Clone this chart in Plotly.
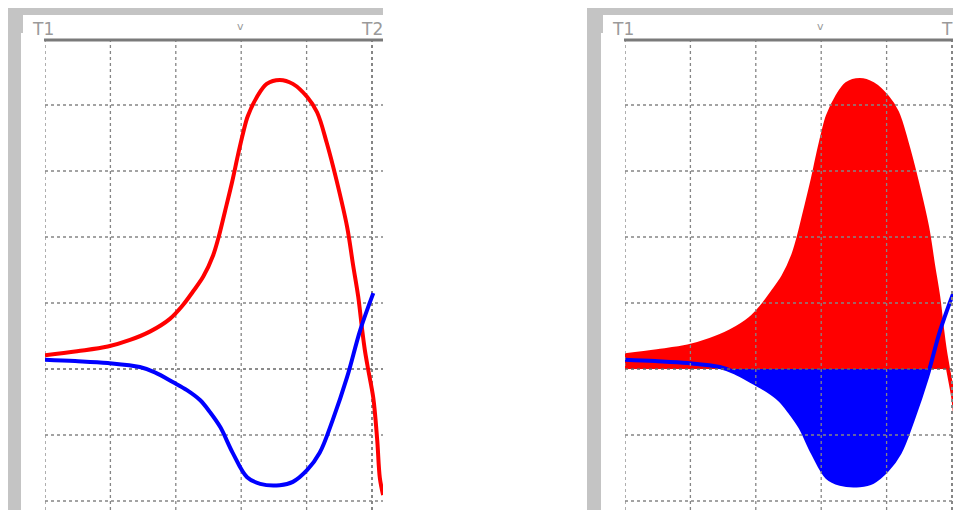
import numpy as np
import plotly.graph_objects as go

# Data in scope divisions (x: time divisions from T1, y: divisions from centre line)
red_x = [0, 0.49, 0.96, 1.30, 1.61, 1.91, 2.11, 2.26, 2.42, 2.57, 2.65, 2.75, 2.86, 2.95, 3.03,
         3.10, 3.24, 3.39, 3.59, 3.79, 4.01, 4.16, 4.31, 4.46, 4.62, 4.71, 4.79, 4.85, 4.89,
         4.94, 5.02, 5.08, 5.12, 5.17]
red_y = [0.21, 0.27, 0.34, 0.44, 0.57, 0.76, 0.97, 1.17, 1.40, 1.72, 1.98, 2.38, 2.83, 3.24,
         3.58, 3.83, 4.12, 4.32, 4.38, 4.32, 4.12, 3.89, 3.42, 2.85, 2.15, 1.58, 1.09, 0.59,
         0.29, 0.00, -0.44, -1.08, -1.65, -1.91]
blue_x = [0, 0.46, 0.96, 1.45, 1.68, 1.96, 2.17, 2.37, 2.52, 2.68, 2.87, 3.09, 3.29, 3.59,
          3.79, 4.01, 4.20, 4.40, 4.62, 4.82, 5.02]
blue_y = [0.14, 0.12, 0.09, 0.03, -0.05, -0.20, -0.32, -0.47, -0.65, -0.88, -1.27, -1.64,
          -1.74, -1.76, -1.71, -1.53, -1.27, -0.77, -0.12, 0.59, 1.15]
labels = ["T1", "v", "T2"]

# The page adds an 8px body margin; work in page pixels and shift.
OFF = 8
W, H = 961 - OFF, 510 - OFF


def px(x):
    return (x - OFF) / W


def py(y):
    return 1 - (y - OFF) / H


PX_X = 65.4
PX_Y = 66.0
Y_ZERO = 369
Y_TOP_PX = 39
y_top = (Y_ZERO - Y_TOP_PX) / PX_Y
y_bot = -(510 - Y_ZERO) / PX_Y

panels = [
    dict(off=0, xa="x", ya="y", right=383, filled=False),
    dict(off=580, xa="x2", ya="y2", right=961, filled=True),
]

# portions used for the filled (area) version
red_pos = [(x, y) for x, y in zip(red_x, red_y) if y >= 0]
blue_neg = [(x, y) for x, y in zip(blue_x, blue_y) if y <= 0]

fig = go.Figure()
RED = "#ff0000"
BLUE = "#0000ff"
LS = dict(shape="spline", smoothing=1.0)

for p in panels:
    if p["filled"]:
        fig.add_trace(go.Scatter(x=[a for a, _ in red_pos], y=[b for _, b in red_pos],
                                 mode="lines", line=dict(width=0, color=RED, **LS),
                                 fill="tozeroy", fillcolor=RED, xaxis=p["xa"], yaxis=p["ya"],
                                 hoverinfo="skip"))
        fig.add_trace(go.Scatter(x=[a for a, _ in blue_neg], y=[b for _, b in blue_neg],
                                 mode="lines", line=dict(width=0, color=BLUE, **LS),
                                 fill="tozeroy", fillcolor=BLUE, xaxis=p["xa"], yaxis=p["ya"],
                                 hoverinfo="skip"))
    fig.add_trace(go.Scatter(x=red_x, y=red_y, mode="lines",
                             line=dict(width=4, color=RED, **LS),
                             xaxis=p["xa"], yaxis=p["ya"]))
    fig.add_trace(go.Scatter(x=blue_x, y=blue_y, mode="lines",
                             line=dict(width=4, color=BLUE, **LS),
                             xaxis=p["xa"], yaxis=p["ya"]))

shapes = []
annotations = []
GRID = "#858585"
FRAME = "#c4c4c4"
for p in panels:
    off = p["off"]
    layer = "above" if p["filled"] else "below"
    x_max = (p["right"] - (45 + off)) / PX_X
    for i in range(6):
        shapes.append(dict(type="line", xref=p["xa"], yref=p["ya"], x0=i, x1=i,
                           y0=y_bot, y1=y_top, layer=layer,
                           line=dict(color=GRID, width=2 if i == 5 else 1.3, dash="dot")))
    for j in range(-2, 5):
        shapes.append(dict(type="line", xref=p["xa"], yref=p["ya"], x0=0, x1=x_max,
                           y0=j, y1=j, layer=layer,
                           line=dict(color="#666666" if j == 0 else GRID,
                                     width=1.6 if j == 0 else 1.3, dash="dot")))
    # top solid line
    shapes.append(dict(type="line", xref="paper", yref="paper",
                       x0=px(44 + off), x1=px(p["right"]), y0=py(40), y1=py(40),
                       line=dict(color="#7a7a7a", width=3)))
    # frame bands
    shapes.append(dict(type="rect", xref="paper", yref="paper",
                       x0=max(px(7 + off), 0), x1=px(p["right"]), y0=py(15), y1=1,
                       fillcolor=FRAME, line=dict(width=0)))
    shapes.append(dict(type="rect", xref="paper", yref="paper",
                       x0=max(px(7 + off), 0), x1=px(21 + off), y0=0, y1=1,
                       fillcolor=FRAME, line=dict(width=0)))
    shapes.append(dict(type="rect", xref="paper", yref="paper",
                       x0=px(21 + off), x1=px(23 + off), y0=py(33), y1=py(15),
                       fillcolor=FRAME, line=dict(width=0)))
    for txt, xp, yp, sz in [(labels[0], 43, 29, 17), (labels[1], 240, 27, 11),
                            (labels[2], 372, 29, 17)]:
        annotations.append(dict(text=txt, xref="paper", yref="paper",
                                x=px(xp + off), y=py(yp), xanchor="center",
                                yanchor="middle", showarrow=False,
                                font=dict(size=sz, color="#9a9a9a", family="DejaVu Sans")))

axis_common = dict(showgrid=False, zeroline=False, showticklabels=False, ticks="",
                   showline=False, fixedrange=True)
fig.update_layout(
    width=W, height=H,
    margin=dict(l=0, r=0, t=0, b=0),
    paper_bgcolor="white", plot_bgcolor="white",
    showlegend=False,
    xaxis=dict(domain=[px(45), px(383)], range=[0, (383 - 45) / PX_X], **axis_common),
    yaxis=dict(domain=[0, py(Y_TOP_PX)], range=[y_bot, y_top], **axis_common),
    xaxis2=dict(domain=[px(625), 1], range=[0, (961 - 625) / PX_X], anchor="y2", **axis_common),
    yaxis2=dict(domain=[0, py(Y_TOP_PX)], range=[y_bot, y_top], anchor="x2", **axis_common),
    shapes=shapes, annotations=annotations,
)

fig.write_html("out.html")
